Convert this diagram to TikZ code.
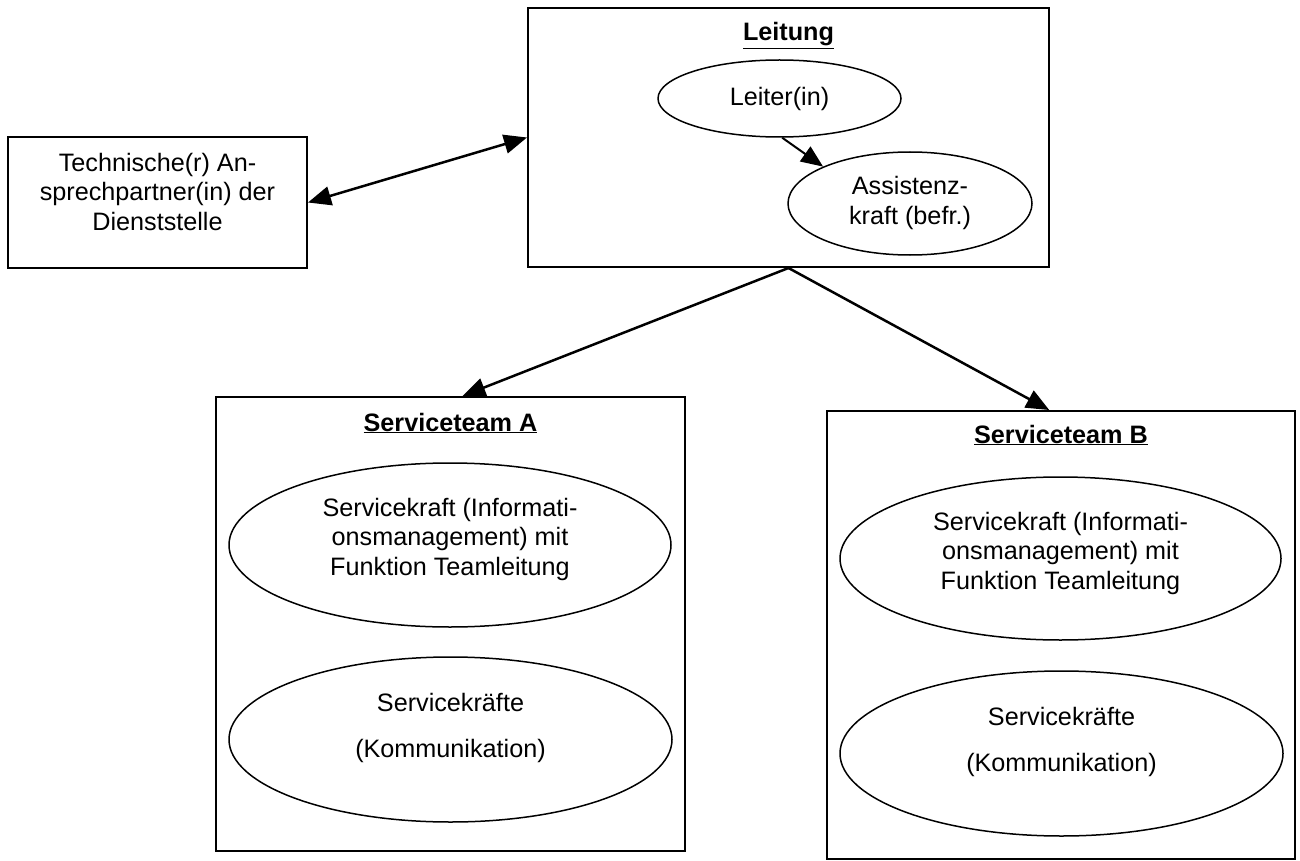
\documentclass[tikz,border=0pt]{standalone}
\usepackage{fontspec}
\setmainfont{Liberation Sans}
\usetikzlibrary{shapes.geometric,arrows.meta}
\tikzset{
  box/.style={draw, line width=2pt, rectangle, inner sep=0pt},
  oval/.style={draw, line width=1.5pt, ellipse, inner sep=0pt},
  txt/.style={align=center, inner sep=0pt, font=\fontsize{25.2}{29.5}\selectfont},
  ttl/.style={inner sep=0pt, anchor=base, font=\fontsize{25.2}{30}\selectfont\bfseries},
  conn/.style={line width=2.5pt, -{Triangle[length=23pt,width=19pt]}},
  dconn/.style={line width=2.5pt, {Triangle[length=23pt,width=19pt]}-{Triangle[length=23pt,width=19pt]}},
  sconn/.style={line width=2pt, -{Triangle[length=22pt,width=18pt]}}
}
\begin{document}
\begin{tikzpicture}[x=1pt,y=-1pt]
\useasboundingbox (0,0) rectangle (1300,861);
% boxes
\node[box, minimum width=299pt, minimum height=131pt] (tech) at (157.5,202.5) {};
\node[box, minimum width=521pt, minimum height=259pt] (leit) at (788.5,137.5) {};
\node[box, minimum width=469pt, minimum height=454pt] (sa) at (450.5,624) {};
\node[box, minimum width=468pt, minimum height=448pt] (sb) at (1061,635) {};
% titles and box text
\node[txt] (techtxt) at (157.5,191.5) {Technische(r) An-\\sprechpartner(in) der\\Dienststelle};
\node[ttl] (leittl) at (788.5,41) {\underline{Leitung}};
\node[ttl] (satl) at (450.5,431) {\underline{Serviceteam A}};
\node[ttl] (sbtl) at (1061,443) {\underline{Serviceteam B}};
% ellipses
\node[oval, minimum width=243pt, minimum height=77pt] (leiter) at (779.5,98.5) {};
\node[oval, minimum width=244pt, minimum height=103pt] (assist) at (910,203.5) {};
\node[oval, minimum width=442pt, minimum height=164pt] (sa1) at (450,545) {};
\node[oval, minimum width=443pt, minimum height=165pt] (sa2) at (450.5,739.5) {};
\node[oval, minimum width=441pt, minimum height=163pt] (sb1) at (1060.5,558.5) {};
\node[oval, minimum width=443pt, minimum height=165pt] (sb2) at (1061.5,753.5) {};
% ellipse texts
\node[txt] (leitert) at (leiter) {Leiter(in)};
\node[txt] (assistt) at (910,203) {Assistenz-\\kraft (befr.)};
\node[txt] (sa1t) at (450,539) {Servicekraft (Informati-\\onsmanagement) mit\\Funktion Teamleitung};
\node[txt] (sa2t) at (450.5,728) {Servicekr\"afte\\[17pt](Kommunikation)};
\node[txt] (sb1t) at (1060.5,553) {Servicekraft (Informati-\\onsmanagement) mit\\Funktion Teamleitung};
\node[txt] (sb2t) at (1061.5,742) {Servicekr\"afte\\[17pt](Kommunikation)};
% connectors
\draw[dconn] (tech.east) -- (leit.west);
\draw[sconn] (leiter.-86) -- (assist.157);
\draw[conn] (leit.south) -- (sa.87.5);
\draw[conn] (leit.south) -- (sb.93.6);
\end{tikzpicture}
\end{document}
